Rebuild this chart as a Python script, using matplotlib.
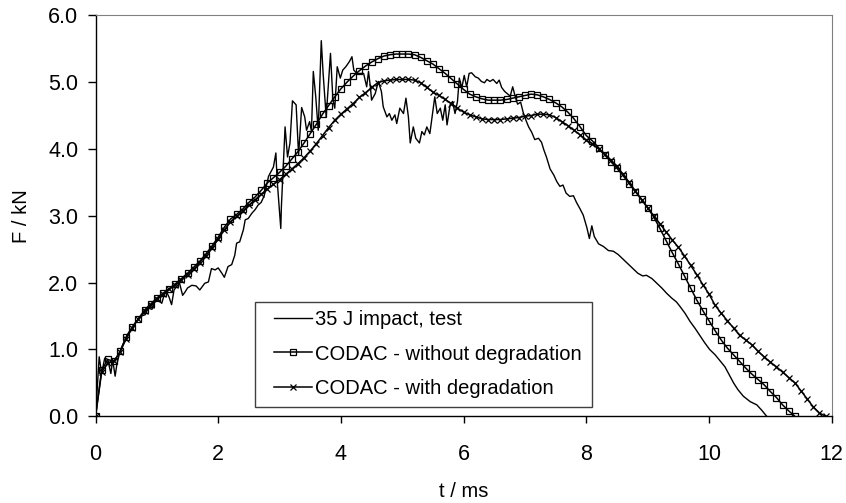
import matplotlib
matplotlib.use('Agg')
import matplotlib.pyplot as plt
from matplotlib.patches import Rectangle
import numpy as np

plt.rcParams['font.family'] = ['Liberation Sans', 'DejaVu Sans']

# measured impact test, t in ms / F in kN
t_test = [0.00, 0.06, 0.10, 0.15, 0.20, 0.25, 0.28, 0.32, 0.35, 0.40, 0.45, 0.50,
          0.55, 0.60, 0.65, 0.70, 0.75, 0.81, 0.86, 0.92, 0.97, 1.02, 1.08, 1.12,
          1.16, 1.20, 1.24, 1.28, 1.33, 1.37, 1.42, 1.46, 1.50, 1.57, 1.64, 1.70,
          1.78, 1.84, 1.89, 1.95, 2.00, 2.06, 2.10, 2.16, 2.22, 2.27, 2.30, 2.35,
          2.41, 2.44, 2.49, 2.55, 2.60, 2.65, 2.70, 2.75, 2.82, 2.90, 2.94, 2.96,
          3.02, 3.03, 3.09, 3.13, 3.17, 3.21, 3.27, 3.31, 3.36, 3.41, 3.44, 3.49,
          3.52, 3.55, 3.59, 3.63, 3.68, 3.71, 3.76, 3.83, 3.87, 3.90, 3.94, 3.99,
          4.03, 4.08, 4.14, 4.18, 4.21, 4.26, 4.31, 4.37, 4.42, 4.45, 4.48, 4.50,
          4.56, 4.61, 4.66, 4.69, 4.75, 4.79, 4.83, 4.88, 4.91, 4.96, 5.02, 5.06,
          5.10, 5.13, 5.18, 5.22, 5.28, 5.32, 5.36, 5.40, 5.45, 5.50, 5.53, 5.57,
          5.62, 5.66, 5.70, 5.73, 5.78, 5.82, 5.86, 5.90, 5.93, 5.97, 6.01, 6.05,
          6.09, 6.13, 6.19, 6.24, 6.29, 6.34, 6.38, 6.43, 6.48, 6.54, 6.58, 6.62,
          6.67, 6.72, 6.76, 6.80, 6.84, 6.88, 6.93, 6.97, 7.02, 7.06, 7.11, 7.16,
          7.22, 7.27, 7.31, 7.35, 7.41, 7.47, 7.52, 7.57, 7.62, 7.67, 7.73, 7.79,
          7.84, 7.90, 7.95, 8.01, 8.05, 8.09, 8.13, 8.20, 8.28, 8.36, 8.44, 8.52,
          8.60, 8.68, 8.76, 8.84, 8.92, 8.98, 9.07, 9.15, 9.23, 9.31, 9.39, 9.47,
          9.53, 9.61, 9.69, 9.77, 9.85, 9.93, 10.01, 10.10, 10.18, 10.26, 10.33,
          10.40, 10.47, 10.56, 10.67, 10.78, 10.86, 10.94]
f_test = [0.00, 0.89, 0.64, 0.87, 0.85, 0.64, 0.84, 0.60, 0.79, 0.97, 1.08, 1.17,
          1.26, 1.30, 1.40, 1.45, 1.50, 1.52, 1.62, 1.60, 1.72, 1.75, 1.69, 1.82,
          1.86, 1.78, 1.67, 1.89, 1.95, 1.99, 1.81, 1.86, 1.92, 1.96, 1.95, 1.89,
          1.99, 2.01, 2.21, 2.19, 2.22, 2.14, 2.08, 2.24, 2.27, 2.41, 2.59, 2.61,
          2.79, 2.94, 2.96, 3.04, 3.09, 3.16, 3.20, 3.30, 3.59, 3.73, 3.94, 3.54,
          2.81, 3.14, 4.33, 3.88, 4.09, 4.72, 4.66, 3.91, 4.62, 4.48, 4.28, 4.41,
          4.26, 5.16, 4.78, 4.28, 5.62, 5.13, 4.48, 5.43, 4.73, 4.61, 5.23, 5.06,
          5.18, 5.23, 5.31, 5.38, 5.18, 5.13, 5.13, 5.13, 4.93, 5.16, 4.93, 4.73,
          4.83, 5.01, 4.86, 4.63, 4.48, 4.53, 4.43, 4.51, 4.38, 4.61, 4.53, 4.76,
          4.48, 4.09, 4.33, 4.16, 4.09, 4.26, 4.21, 4.33, 4.23, 4.58, 4.78, 4.53,
          4.61, 4.43, 4.66, 4.36, 4.66, 4.71, 4.53, 4.71, 5.06, 4.91, 5.10, 4.93,
          5.13, 5.14, 5.08, 5.06, 5.01, 4.99, 5.04, 5.01, 5.04, 4.98, 5.03, 4.92,
          4.86, 4.82, 4.79, 4.93, 4.79, 4.67, 4.70, 4.55, 4.42, 4.33, 4.25, 4.14,
          4.16, 4.10, 3.98, 3.88, 3.70, 3.61, 3.51, 3.44, 3.46, 3.34, 3.29, 3.30,
          3.20, 3.10, 3.01, 2.82, 2.66, 2.85, 2.69, 2.58, 2.54, 2.48, 2.47, 2.42,
          2.35, 2.28, 2.21, 2.14, 2.10, 2.11, 2.06, 1.99, 1.92, 1.84, 1.77, 1.71,
          1.64, 1.54, 1.42, 1.32, 1.21, 1.10, 1.00, 0.92, 0.83, 0.74, 0.62,
          0.50, 0.40, 0.30, 0.22, 0.17, 0.09, 0.00]

# CODAC simulation output, one value every 0.1 ms starting at t = 0
dt = 0.1
f_no_deg = [0.00, 0.69, 0.85, 0.82, 0.97, 1.19, 1.34, 1.46, 1.59, 1.68,
            1.77, 1.84, 1.91, 1.98, 2.06, 2.14, 2.23, 2.32, 2.43, 2.55,
            2.68, 2.83, 2.95, 3.02, 3.10, 3.20, 3.28, 3.38, 3.49, 3.57,
            3.65, 3.74, 3.85, 3.96, 4.09, 4.23, 4.37, 4.52, 4.65, 4.78,
            4.90, 5.00, 5.09, 5.17, 5.24, 5.30, 5.35, 5.39, 5.41, 5.42,
            5.42, 5.42, 5.41, 5.37, 5.32, 5.27, 5.20, 5.13, 5.05, 4.97,
            4.89, 4.82, 4.78, 4.75, 4.73, 4.73, 4.73, 4.74, 4.76, 4.78,
            4.80, 4.82, 4.81, 4.78, 4.74, 4.69, 4.63, 4.55, 4.45, 4.33,
            4.20, 4.12, 4.02, 3.91, 3.81, 3.71, 3.60, 3.48, 3.36, 3.25,
            3.12, 2.98, 2.81, 2.63, 2.45, 2.28, 2.10, 1.92, 1.74, 1.58,
            1.43, 1.28, 1.14, 1.02, 0.92, 0.82, 0.72, 0.63, 0.55, 0.47,
            0.37, 0.28, 0.17, 0.08, 0.00]
f_deg = [0.00, 0.66, 0.80, 0.82, 0.96, 1.16, 1.32, 1.46, 1.57, 1.66,
         1.75, 1.83, 1.90, 1.97, 2.04, 2.12, 2.20, 2.30, 2.40, 2.52,
         2.65, 2.79, 2.91, 2.99, 3.07, 3.16, 3.24, 3.32, 3.40, 3.47,
         3.54, 3.62, 3.70, 3.78, 3.87, 3.97, 4.08, 4.20, 4.32, 4.43,
         4.52, 4.60, 4.68, 4.77, 4.84, 4.92, 4.99, 5.02, 5.03, 5.04,
         5.04, 5.04, 5.03, 4.99, 4.92, 4.85, 4.80, 4.74, 4.68, 4.61,
         4.55, 4.51, 4.48, 4.45, 4.44, 4.44, 4.44, 4.45, 4.46, 4.47,
         4.49, 4.50, 4.52, 4.52, 4.51, 4.47, 4.41, 4.35, 4.28, 4.21,
         4.13, 4.08, 4.00, 3.92, 3.83, 3.74, 3.62, 3.50, 3.37, 3.24,
         3.12, 3.00, 2.88, 2.76, 2.64, 2.53, 2.40, 2.26, 2.12, 1.97,
         1.83, 1.66, 1.54, 1.43, 1.32, 1.21, 1.14, 1.07, 0.97, 0.89,
         0.81, 0.74, 0.66, 0.58, 0.50, 0.38, 0.26, 0.14, 0.05, 0.00]
t_no_deg = dt * np.arange(len(f_no_deg))
t_deg = dt * np.arange(len(f_deg))

labels = ['35 J impact, test', 'CODAC - without degradation', 'CODAC - with degradation']

fig = plt.figure(figsize=(8.46, 5.03), dpi=100)
ax = fig.add_axes([0.1129, 0.1724, 0.8702, 0.7972])

ax.plot(t_test, f_test, color='black', lw=1.0, label=labels[0])
ax.plot(t_no_deg, f_no_deg, color='black', lw=1.1, marker='s', ms=4.3,
        mfc='none', mec='black', mew=0.9, label=labels[1])
ax.plot(t_deg, f_deg, color='black', lw=1.1, marker='x', ms=5,
        mec='black', mew=0.9, label=labels[2])

ax.set_xlim(0, 12)
ax.set_ylim(0, 6)
ax.set_xticks(np.arange(0, 13, 2))
ax.set_yticks(np.arange(0, 7, 1))
ax.set_yticklabels(['%.1f' % v for v in np.arange(0, 7, 1)])
ax.tick_params(axis='x', direction='out', length=5, width=1, pad=15, labelsize=15.5)
ax.tick_params(axis='y', direction='out', length=5.5, width=1, pad=7, labelsize=15.5)

for s in ['top', 'right']:
    ax.spines[s].set_color('#808080')
for s in ['left', 'bottom']:
    ax.spines[s].set_color('black')
    ax.spines[s].set_linewidth(1.0)

ax.set_xlabel('t / ms', fontsize=14.5)
ax.set_ylabel('F / kN', fontsize=14.5)
ax.xaxis.set_label_coords(0.5, -0.165)
ax.yaxis.set_label_coords(-0.087, 0.5)

# legend box drawn separately so the inner padding can match the original
box = Rectangle((0.2167, 0.0232), 0.4577, 0.2618, transform=ax.transAxes,
                facecolor='white', edgecolor='#404040', lw=1.0, zorder=4)
ax.add_patch(box)
leg = ax.legend(loc='upper left', bbox_to_anchor=(0.2425, 0.265), borderaxespad=0,
                borderpad=0, fontsize=14.5, frameon=False,
                handlelength=1.9, handletextpad=0.15, labelspacing=0.77)
leg.set_zorder(5)

fig.savefig('out.png', dpi=100)
